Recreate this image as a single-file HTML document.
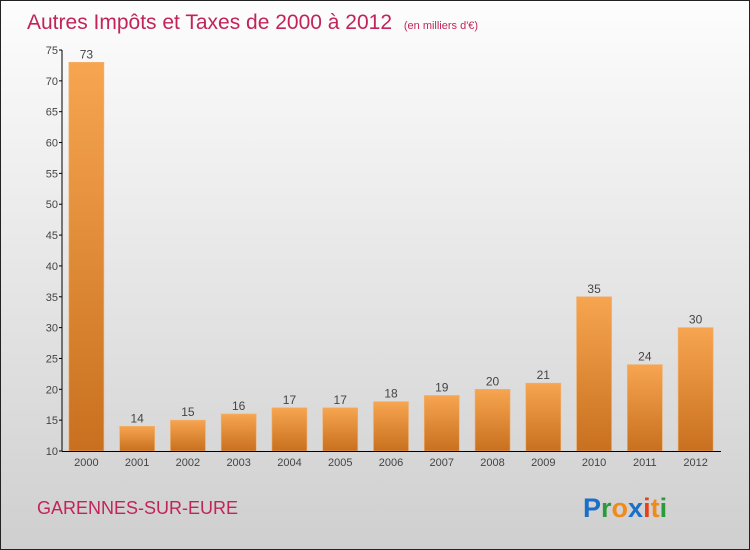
<!DOCTYPE html>
<html><head><meta charset="utf-8"><style>
body{margin:0;}
#c{width:748px;height:548px;border:1px solid #222;background:linear-gradient(#fdfdfd,#cfcfcf);position:relative;overflow:hidden;font-family:"Liberation Sans",sans-serif;}
</style></head><body>
<div id="c">
<svg width="748" height="548" id="s">
<defs><linearGradient id="g" x1="0" y1="0" x2="0" y2="1"><stop offset="0" stop-color="#f7a550"/><stop offset="1" stop-color="#c8701f"/></linearGradient></defs>
<text x="26" y="28" font-size="21" fill="#c2245a">Autres Impôts et Taxes de 2000 à 2012 <tspan font-size="11" dx="6">(en milliers d'€)</tspan></text>
<text x="36" y="513" font-size="18" fill="#c2245a">GARENNES-SUR-EURE</text>
<text x="582" y="516" font-size="27" font-weight="bold"><tspan fill="#1a6fc9">P</tspan><tspan fill="#2a9a3a">r</tspan><tspan fill="#f08a1a">o</tspan><tspan fill="#1a6fc9">x</tspan><tspan fill="#e8401a">i</tspan><tspan fill="#f08a1a">t</tspan><tspan fill="#2a9a3a">i</tspan></text>
<g id="plot"></g>
</svg>
</div>
<script>
const categories=["2000","2001","2002","2003","2004","2005","2006","2007","2008","2009","2010","2011","2012"];
const values=[73,14,15,16,17,17,18,19,20,21,35,24,30];
const yTicks=[10,15,20,25,30,35,40,45,50,55,60,65,70,75];
const NS="http://www.w3.org/2000/svg";
const g=document.getElementById('plot');
const y0=450,y1=49,vmin=10,vmax=75,x0=60,x1=720;
const ys=v=>y0-(v-vmin)/(vmax-vmin)*(y0-y1);
const step=(x1-x0)/categories.length;
const xs=i=>x0+step*(i+0.5);
function mk(t,a){const e=document.createElementNS(NS,t);for(const k in a)e.setAttribute(k,a[k]);g.appendChild(e);return e;}
values.forEach((v,i)=>{
 const r=mk('rect',{x:xs(i)-17.5,y:ys(v),width:35,height:y0-ys(v),fill:'url(#g)',stroke:'#f0b070','stroke-width':0.6});
 
 
 const t=mk('text',{x:xs(i),y:ys(v)-4,'text-anchor':'middle','font-size':12,fill:'#444'});t.textContent=v;
 
 
 const c=mk('text',{x:xs(i),y:y0+15,'text-anchor':'middle','font-size':11,fill:'#444'});c.textContent=categories[i];
 
 
});
const ya=mk('line',{x1:x0+1,y1:y1,x2:x0+1,y2:y0,stroke:'#000'});


const xa=mk('line',{x1:x0+1,y1:y0+0.5,x2:x1,y2:y0+0.5,stroke:'#000'});


yTicks.forEach(v=>{
 mk('line',{x1:x0-2,y1:ys(v),x2:x0+1,y2:ys(v),stroke:'#000'});
 const t=mk('text',{x:x0-3,y:ys(v)+4,'text-anchor':'end','font-size':11,fill:'#444'});t.textContent=v;
 
 
});
</script>
</body></html>
